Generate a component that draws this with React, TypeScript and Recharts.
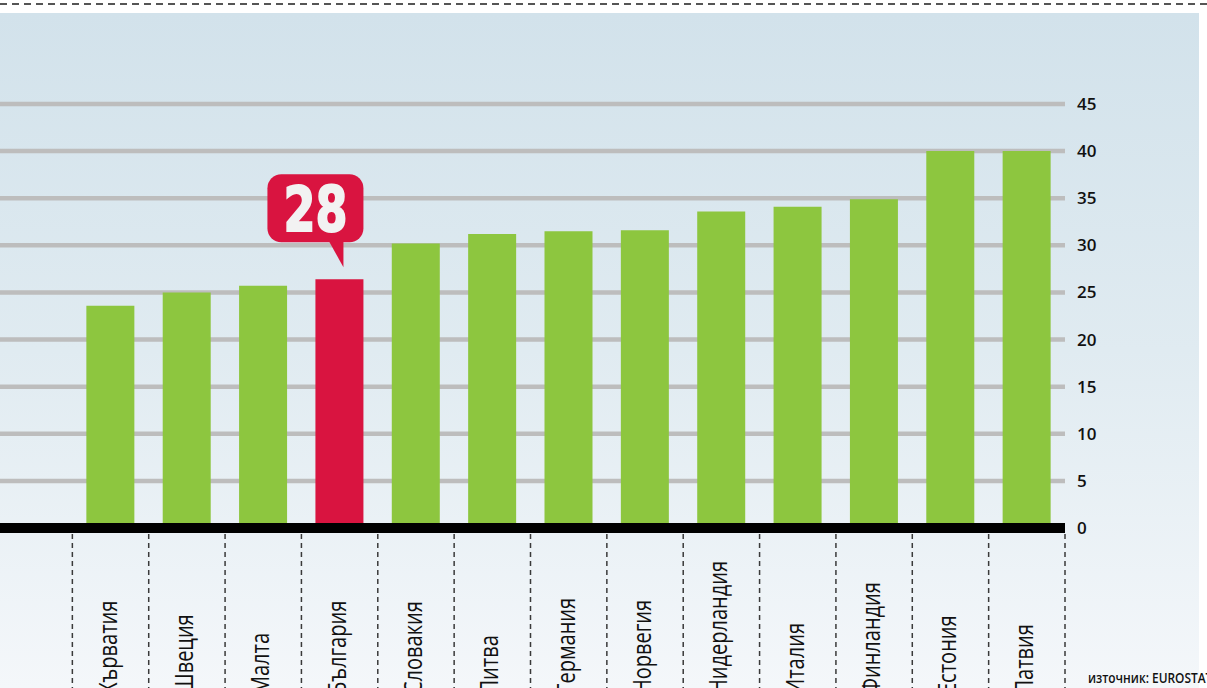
import { BarChart, Bar, Cell, XAxis, YAxis, CartesianGrid, LabelList } from "recharts";

const categories = [
  "",
  "Хърватия",
  "Швеция",
  "Малта",
  "България",
  "Словакия",
  "Литва",
  "Германия",
  "Норвегия",
  "Нидерландия",
  "Италия",
  "Финландия",
  "Естония",
  "Латвия",
];
const values = [null, 23.6, 25.0, 25.7, 26.4, 30.2, 31.2, 31.5, 31.6, 33.6, 34.1, 34.9, 40.0, 40.0];
const callouts = ["", "", "", "", "28", "", "", "", "", "", "", "", "", ""];
const highlighted = "България";
const yTicks = [0, 5, 10, 15, 20, 25, 30, 35, 40, 45];
const source = "източник: EUROSTAT";

const data = categories.map((name, i) => ({ name, value: values[i], callout: callouts[i] }));

const GREEN = "#8dc63f";
const RED = "#d91440";

function CategoryTick(props: any) {
  const { x, y, payload } = props;
  const half = payload && payload.offset ? payload.offset : 38;
  const lx = x + half;
  return (
    <g>
      <line x1={lx} x2={lx} y1={y + 6} y2={y + 170} stroke="#3a3a3a" strokeWidth={1.5} strokeDasharray="5 4" />
      {payload.value ? (
        <text
          transform={`translate(${x + 6},${y + 166}) rotate(-90) scale(0.77,1)`}
          textAnchor="start"
          fontFamily="'Open Sans', sans-serif"
          fontWeight={500}
          fontSize={26}
          fill="#111"
        >
          {payload.value}
        </text>
      ) : null}
    </g>
  );
}

function Callout(props: any) {
  const { x, y, width, value } = props;
  if (!value) return null;
  const right = x + width;
  const left = right - 96;
  const top = y - 105;
  return (
    <g>
      <rect x={left} y={top} width={96} height={68} rx={14} fill={RED} />
      <polygon points={`${right - 35},${top + 66} ${right - 20},${top + 66} ${right - 20},${y - 12}`} fill={RED} />
      <text
        x={left + 48}
        y={top + 57}
        textAnchor="middle"
        fontFamily="'DejaVu Sans', sans-serif"
        fontWeight={700}
        fontSize={62}
        textLength={64}
        lengthAdjust="spacingAndGlyphs"
        fill="#f2f2f2"
        stroke="#f2f2f2"
        strokeWidth={2}
      >
        {value}
      </text>
    </g>
  );
}

export default function App() {
  return (
    <div style={{ position: "absolute", left: 0, top: 0, width: 1207, height: 688, overflow: "hidden", background: "#fff" }}>
      <svg width={1207} height={10} style={{ position: "absolute", left: 0, top: 0 }}>
        <line x1={0} x2={1207} y1={4} y2={4} stroke="#555" strokeWidth={2} strokeDasharray="7 5" />
      </svg>
      <div
        style={{
          position: "absolute",
          left: 0,
          top: 13,
          width: 1199,
          height: 675,
          background: "linear-gradient(#d2e2eb, #e0ebf1 50%, #f4f7fa)",
        }}
      />
      <div style={{ position: "absolute", left: -4, top: 0 }}>
        <BarChart width={1211} height={688} data={data} margin={{ top: 104, right: 0, bottom: 0, left: 0 }}>
          <CartesianGrid horizontal vertical={false} stroke="#bdbdbd" strokeWidth={4.5} />
          <YAxis
            orientation="right"
            width={142}
            domain={[0, 45]}
            ticks={yTicks}
            interval={0}
            axisLine={false}
            tickLine={false}
            tickSize={0}
            tickMargin={12}
            tick={{ fill: "#111", fontSize: 17, fontFamily: "'Open Sans', sans-serif", fontWeight: 600 }}
          />
          <Bar dataKey="value" barSize={48} isAnimationActive={false}>
            {data.map((d) => (
              <Cell key={d.name || "blank"} fill={d.name === highlighted ? RED : GREEN} />
            ))}
            <LabelList dataKey="callout" content={<Callout />} />
          </Bar>
          <XAxis
            dataKey="name"
            height={160}
            interval={0}
            tickSize={0}
            tickMargin={0}
            tickLine={false}
            axisLine={{ stroke: "#000", strokeWidth: 10 }}
            tick={<CategoryTick />}
          />
        </BarChart>
      </div>
      <div
        style={{
          position: "absolute",
          left: 1088,
          top: 670,
          fontFamily: "'Open Sans', sans-serif",
          fontWeight: 600,
          fontSize: 14,
          lineHeight: "16px",
          color: "#111",
          whiteSpace: "nowrap",
          transform: "scaleX(0.85)",
          transformOrigin: "left",
        }}
      >
        {source}
      </div>
    </div>
  );
}
